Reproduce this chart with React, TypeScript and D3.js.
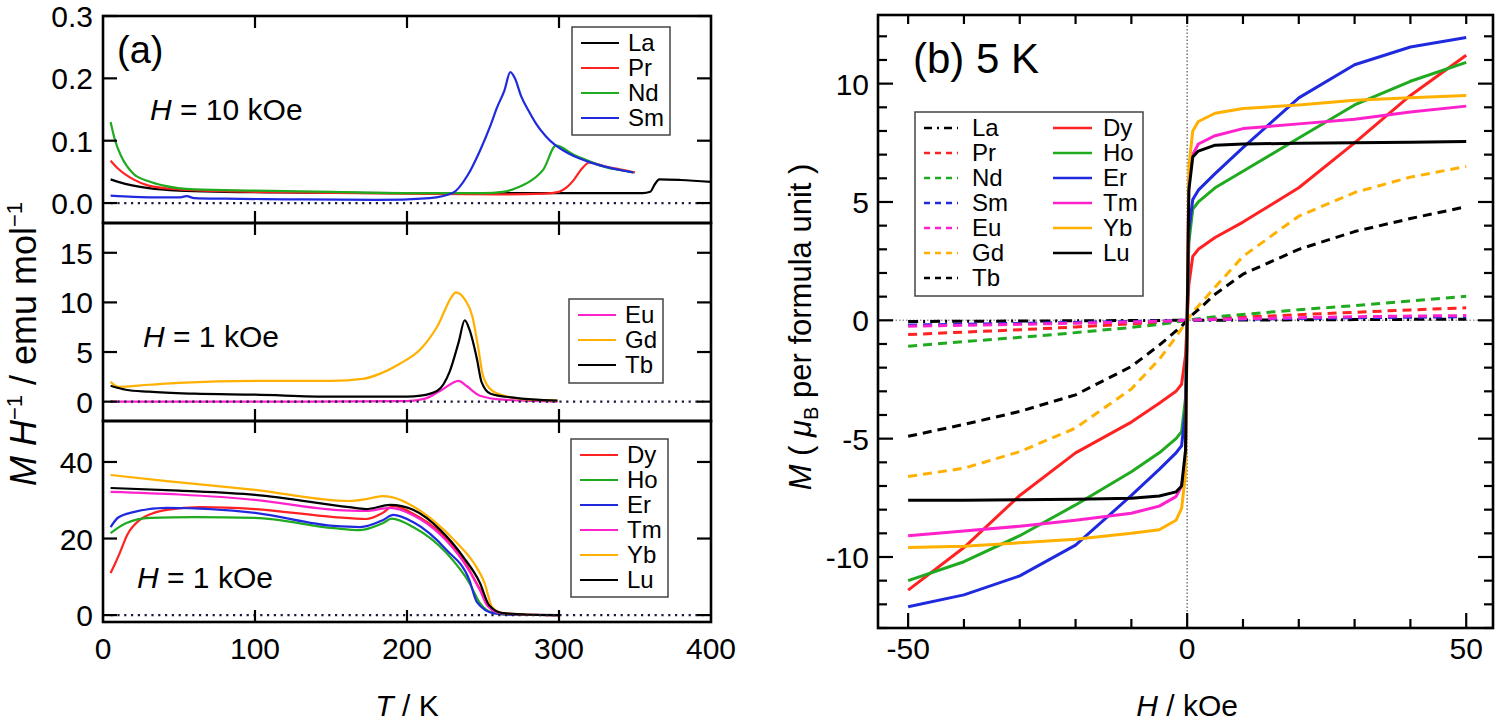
import * as d3 from "d3";

// ---- panel (a), top: H = 10 kOe
const laT = [5, 10, 20, 30, 50, 80, 120, 200, 300, 355, 360, 363, 366, 380, 400];
const laV = [0.038, 0.034, 0.028, 0.024, 0.02, 0.018, 0.017, 0.016, 0.016, 0.016, 0.018, 0.03, 0.038, 0.037, 0.034];
const prT = [5, 10, 20, 30, 50, 80, 120, 200, 260, 290, 300, 305, 310, 315, 320, 330, 340, 350];
const prV = [0.068, 0.055, 0.038, 0.028, 0.022, 0.019, 0.017, 0.015, 0.014, 0.015, 0.018, 0.025, 0.038, 0.055, 0.065, 0.059, 0.054, 0.049];
const ndT = [5, 8, 12, 20, 30, 40, 60, 100, 150, 200, 250, 263, 272, 281, 290, 298, 310, 320, 330, 340, 349];
const ndV = [0.13, 0.1, 0.075, 0.047, 0.035, 0.028, 0.022, 0.02, 0.018, 0.016, 0.016, 0.018, 0.024, 0.035, 0.055, 0.092, 0.077, 0.067, 0.058, 0.053, 0.049];
const smT = [5, 20, 40, 50, 55, 60, 80, 120, 180, 215, 230, 240, 248, 255, 259, 264, 268, 271, 275, 280, 285, 291, 298, 306, 314, 322, 331, 340, 349];
const smV = [0.012, 0.01, 0.009, 0.009, 0.011, 0.008, 0.007, 0.006, 0.005, 0.008, 0.016, 0.045, 0.084, 0.125, 0.152, 0.18, 0.21, 0.2, 0.172, 0.148, 0.127, 0.108, 0.092, 0.08, 0.071, 0.064, 0.058, 0.053, 0.049];

// ---- panel (a), middle: H = 1 kOe
const euT = [5, 100, 200, 212, 222, 234, 239, 248, 263, 299];
const euV = [0, 0, 0.05, 0.3, 1.1, 2.1, 1.6, 0.6, 0.2, 0];
const gdT = [5, 10, 30, 50, 100, 150, 171, 182, 195, 209, 220, 230, 232, 238, 243, 247, 250, 256, 266, 281, 299];
const gdV = [2.0, 1.5, 1.7, 1.9, 2.1, 2.1, 2.3, 2.8, 3.8, 5.3, 7.6, 10.7, 11.0, 10.3, 8.6, 5.3, 2.6, 1.1, 0.5, 0.2, 0.1];
const tbT = [5, 15, 30, 60, 100, 150, 200, 209, 220, 228, 234, 238, 241, 246, 249, 255, 270, 299];
const tbV = [1.6, 1.2, 1.0, 0.8, 0.7, 0.5, 0.5, 0.6, 1.1, 3.0, 6.0, 8.2, 7.3, 4.3, 2.0, 0.8, 0.4, 0.1];

// ---- panel (a), bottom: H = 1 kOe
const dyT = [5, 8, 11, 16, 24, 32, 42, 64, 100, 152, 173, 184, 191, 204, 222, 237, 248, 257, 270, 300];
const dyV = [11, 13.5, 16.2, 21, 24.8, 26.5, 27.5, 28.2, 27.7, 25.6, 25.1, 26.7, 28.5, 26.5, 21.5, 14.5, 6.8, 1.0, 0.2, 0];
const hoT = [5, 15, 31, 60, 100, 152, 169, 184, 190, 204, 226, 241, 248, 257, 270, 300];
const hoV = [21.4, 24, 25.4, 25.6, 25.4, 22.7, 22.2, 24, 25.2, 23, 16.2, 8.4, 3.1, 0.5, 0.1, 0];
const erT = [5, 10, 20, 42, 100, 152, 169, 184, 191, 204, 226, 241, 246, 257, 270, 300];
const erV = [23, 25.5, 26.9, 28, 26.7, 23.3, 23, 24.8, 26.2, 24.3, 17, 9.2, 3.4, 0.5, 0.1, 0];
const tmT = [5, 50, 100, 152, 173, 189, 204, 222, 237, 248, 253, 262, 280, 300];
const tmV = [32.2, 31.5, 30.1, 27.5, 27.2, 28.0, 26.1, 21.0, 14.0, 6.5, 2.4, 0.5, 0.1, 0];
const ybT = [5, 42, 100, 162, 173, 184, 190, 200, 217, 233, 244, 251, 256, 263, 280, 300];
const ybV = [36.6, 35.0, 32.7, 29.8, 30.3, 31.1, 30.8, 29.3, 24.8, 18.8, 13.6, 8.4, 2.1, 0.5, 0.1, 0];
const luT = [5, 50, 100, 162, 173, 189, 204, 222, 237, 248, 254, 263, 280, 300];
const luV = [33.2, 32.5, 31.4, 28.2, 27.7, 28.8, 27.5, 22.2, 15.2, 8.4, 2.6, 0.5, 0.1, 0];

// ---- panel (b): M(H) at 5 K
const fieldH = [-50, -40, -30, -20, -10, -5, -2, -1, -0.3, 0, 0.3, 1, 2, 5, 10, 20, 30, 40, 50];
const mLa = [-0.05, -0.04, -0.03, -0.02, -0.01, -0.005, 0, 0, 0, 0, 0, 0, 0, 0.005, 0.01, 0.02, 0.03, 0.04, 0.05];
const mPr = [-0.6, -0.5, -0.4, -0.28, -0.15, -0.08, -0.03, -0.02, -0.005, 0, 0.005, 0.02, 0.03, 0.07, 0.13, 0.24, 0.34, 0.44, 0.53];
const mNd = [-1.1, -0.9, -0.72, -0.52, -0.3, -0.17, -0.07, -0.04, -0.01, 0, 0.01, 0.04, 0.07, 0.15, 0.25, 0.45, 0.62, 0.82, 1.02];
const mSm = [-0.2, -0.17, -0.13, -0.09, -0.05, -0.03, -0.01, 0, 0, 0, 0, 0, 0.01, 0.03, 0.05, 0.08, 0.11, 0.13, 0.15];
const mEu = [-0.25, -0.21, -0.17, -0.12, -0.07, -0.04, -0.02, -0.01, 0, 0, 0, 0.01, 0.02, 0.04, 0.07, 0.11, 0.15, 0.18, 0.2];
const mGd = [-6.6, -6.25, -5.55, -4.55, -2.9, -1.65, -0.7, -0.35, -0.1, 0, 0.1, 0.35, 0.6, 1.4, 2.7, 4.4, 5.4, 6.05, 6.5];
const mTb = [-4.9, -4.4, -3.85, -3.15, -1.95, -1.05, -0.45, -0.25, -0.07, 0, 0.07, 0.25, 0.45, 1.1, 1.95, 3.0, 3.75, 4.3, 4.8];
const mDy = [-11.4, -9.6, -7.4, -5.6, -4.3, -3.5, -3.0, -2.7, -1.5, 0, 1.5, 2.7, 3.0, 3.5, 4.15, 5.6, 7.5, 9.5, 11.2];
const mHo = [-11.0, -10.2, -9.1, -7.8, -6.4, -5.6, -5.0, -4.7, -3.3, 0, 3.3, 4.7, 5.0, 5.6, 6.3, 7.7, 9.1, 10.1, 10.9];
const mEr = [-12.1, -11.6, -10.8, -9.5, -7.4, -6.3, -5.6, -5.3, -3.8, 0, 3.8, 5.1, 5.5, 6.2, 7.3, 9.4, 10.8, 11.55, 11.95];
const mTm = [-9.1, -8.9, -8.7, -8.45, -8.15, -7.85, -7.45, -7.0, -6.0, 0, 6.0, 7.0, 7.45, 7.8, 8.1, 8.3, 8.5, 8.8, 9.05];
const mYb = [-9.6, -9.55, -9.4, -9.25, -9.0, -8.85, -8.45, -7.95, -6.5, 0, 6.5, 8.0, 8.4, 8.75, 8.95, 9.1, 9.3, 9.4, 9.5];
const mLu = [-7.6, -7.6, -7.58, -7.56, -7.52, -7.42, -7.25, -7.0, -5.5, 0, 5.5, 6.9, 7.15, 7.4, 7.45, 7.48, 7.5, 7.52, 7.55];

const tTicks = [0, 100, 200, 300, 400];
const hTickLabels = [-50, 0, 50];
const mTickLabels = [-10, -5, 0, 5, 10];

const C = {
  black: "#000000",
  red: "#ff2222",
  green: "#1faa1f",
  blue: "#1f2adf",
  magenta: "#ff22cc",
  orange: "#ffb000",
};

const FONT = "'Liberation Sans', Arial, Helvetica, sans-serif";

type Curve = { name: string; t: number[]; v: number[]; color: string; dash?: string };

const topCurves: Curve[] = [
  { name: "La", t: laT, v: laV, color: C.black },
  { name: "Pr", t: prT, v: prV, color: C.red },
  { name: "Nd", t: ndT, v: ndV, color: C.green },
  { name: "Sm", t: smT, v: smV, color: C.blue },
];
const midCurves: Curve[] = [
  { name: "Eu", t: euT, v: euV, color: C.magenta },
  { name: "Gd", t: gdT, v: gdV, color: C.orange },
  { name: "Tb", t: tbT, v: tbV, color: C.black },
];
const botCurves: Curve[] = [
  { name: "Dy", t: dyT, v: dyV, color: C.red },
  { name: "Ho", t: hoT, v: hoV, color: C.green },
  { name: "Er", t: erT, v: erV, color: C.blue },
  { name: "Tm", t: tmT, v: tmV, color: C.magenta },
  { name: "Yb", t: ybT, v: ybV, color: C.orange },
  { name: "Lu", t: luT, v: luV, color: C.black },
];

const DASH = "9 6";
const mhDashed: Curve[] = [
  { name: "La", t: fieldH, v: mLa, color: C.black, dash: "10 5 2 5" },
  { name: "Pr", t: fieldH, v: mPr, color: C.red, dash: DASH },
  { name: "Nd", t: fieldH, v: mNd, color: C.green, dash: DASH },
  { name: "Sm", t: fieldH, v: mSm, color: C.blue, dash: DASH },
  { name: "Eu", t: fieldH, v: mEu, color: C.magenta, dash: DASH },
  { name: "Gd", t: fieldH, v: mGd, color: C.orange, dash: DASH },
  { name: "Tb", t: fieldH, v: mTb, color: C.black, dash: DASH },
];
const mhSolid: Curve[] = [
  { name: "Dy", t: fieldH, v: mDy, color: C.red },
  { name: "Ho", t: fieldH, v: mHo, color: C.green },
  { name: "Er", t: fieldH, v: mEr, color: C.blue },
  { name: "Tm", t: fieldH, v: mTm, color: C.magenta },
  { name: "Yb", t: fieldH, v: mYb, color: C.orange },
  { name: "Lu", t: fieldH, v: mLu, color: C.black },
];

// panel (a) geometry
const AL = 103, AR = 711;
const xA = d3.scaleLinear().domain([0, 400]).range([AL, AR]);
const panels = [
  { y: d3.scaleLinear().domain([-0.032, 0.3]).range([223, 16]), top: 16, bot: 223, ticks: [0, 0.1, 0.2, 0.3], fmt: d3.format(".1f"), curves: topCurves },
  { y: d3.scaleLinear().domain([-1.95, 18]).range([421, 223]), top: 223, bot: 421, ticks: [0, 5, 10, 15], fmt: d3.format("d"), curves: midCurves },
  { y: d3.scaleLinear().domain([-1.8, 50.7]).range([622, 421]), top: 421, bot: 622, ticks: [0, 20, 40], fmt: d3.format("d"), curves: botCurves },
];

// panel (b) geometry
const BL = 878, BR = 1493, BT = 15, BB = 628;
const xB = d3.scaleLinear().domain([-55.4, 54.8]).range([BL, BR]);
const yB = d3.scaleLinear().domain([-13, 12.9]).range([BB, BT]);

function Legend({ x, y, w, h, items }: { x: number; y: number; w: number; h: number; items: Curve[] }) {
  return (
    <g>
      <rect x={x} y={y} width={w} height={h} fill="#fff" stroke="#444" strokeWidth={1.5} />
      {items.map((c, i) => {
        const cy = y + 16 + i * 25;
        return (
          <g key={c.name}>
            <line x1={x + 9} x2={x + 47} y1={cy} y2={cy} stroke={c.color} strokeWidth={2} />
            <text x={x + 56} y={cy + 8} fontSize={24} fontFamily={FONT}>{c.name}</text>
          </g>
        );
      })}
    </g>
  );
}

function PanelA() {
  const items: JSX.Element[] = [];
  panels.forEach((p, pi) => {
    const gen = d3
      .line<[number, number]>()
      .x((d) => xA(d[0]))
      .y((d) => p.y(d[1]))
      .curve(d3.curveMonotoneX);
    p.curves.forEach((c) => {
      const pts = c.t.map((t, i) => [t, c.v[i]] as [number, number]);
      items.push(
        <path key={`c-${pi}-${c.name}`} d={gen(pts) || ""} fill="none" stroke={c.color} strokeWidth={2.2} strokeLinejoin="round" />
      );
    });
    // zero line
    items.push(
      <line key={`z-${pi}`} x1={xA(5)} x2={xA(395)} y1={p.y(0)} y2={p.y(0)} stroke="#1a1a40" strokeWidth={2.2} strokeDasharray="2.2 4.6" />
    );
    // y ticks + labels
    p.ticks.forEach((t) => {
      const yy = p.y(t);
      items.push(<line key={`yl-${pi}-${t}`} x1={AL} x2={AL + 14} y1={yy} y2={yy} stroke="#000" strokeWidth={2.2} />);
      items.push(<line key={`yr-${pi}-${t}`} x1={AR} x2={AR - 14} y1={yy} y2={yy} stroke="#000" strokeWidth={2.2} />);
      items.push(
        <text key={`yt-${pi}-${t}`} x={AL - 10} y={yy + 11} fontSize={30} textAnchor="end" fontFamily={FONT}>
          {p.fmt(t)}
        </text>
      );
    });
    // x ticks on top and bottom border of each panel
    [100, 200, 300].forEach((t) => {
      items.push(<line key={`xt-${pi}-${t}`} x1={xA(t)} x2={xA(t)} y1={p.top} y2={p.top + 12} stroke="#000" strokeWidth={2.2} />);
      items.push(<line key={`xb-${pi}-${t}`} x1={xA(t)} x2={xA(t)} y1={p.bot} y2={p.bot - 12} stroke="#000" strokeWidth={2.2} />);
    });
    items.push(
      <rect key={`f-${pi}`} x={AL} y={p.top} width={AR - AL} height={p.bot - p.top} fill="none" stroke="#000" strokeWidth={2.6} />
    );
  });
  return (
    <g>
      {items}
      {tTicks.map((t) => (
        <text key={`tl-${t}`} x={xA(t)} y={659} fontSize={30} textAnchor="middle" fontFamily={FONT}>
          {t}
        </text>
      ))}
      <Legend x={572} y={27} w={98} h={108} items={topCurves} />
      <Legend x={569} y={299} w={94} h={84} items={midCurves} />
      <Legend x={571} y={439} w={97} h={158} items={botCurves} />
      <text x={117} y={63} fontSize={38} fontFamily={FONT}>(a)</text>
      <text x={150} y={120} fontSize={30} fontFamily={FONT}>
        <tspan fontStyle="italic">H</tspan> = 10 kOe
      </text>
      <text x={143} y={347} fontSize={30} fontFamily={FONT}>
        <tspan fontStyle="italic">H</tspan> = 1 kOe
      </text>
      <text x={137} y={588} fontSize={30} fontFamily={FONT}>
        <tspan fontStyle="italic">H</tspan> = 1 kOe
      </text>
      <text x={407} y={716} fontSize={30} textAnchor="middle" fontFamily={FONT}>
        <tspan fontStyle="italic">T</tspan> / K
      </text>
      <text transform="translate(36,344) rotate(-90)" fontSize={36} textAnchor="middle" fontFamily={FONT}>
        <tspan fontStyle="italic">M H</tspan>
        <tspan dy={-14} fontSize={22}>−1</tspan>
        <tspan dy={14}> / emu mol</tspan>
        <tspan dy={-14} fontSize={22}>−1</tspan>
      </text>
    </g>
  );
}

function PanelB() {
  const gen = d3
    .line<[number, number]>()
    .x((d) => xB(d[0]))
    .y((d) => yB(d[1]));
  const all = [...mhDashed, ...mhSolid];
  const yTicks = d3.range(-13, 13);
  const xTicks = d3.range(-50, 51, 10);
  return (
    <g>
      <defs>
        <clipPath id="clipB">
          <rect x={BL} y={BT} width={BR - BL} height={BB - BT} />
        </clipPath>
      </defs>
      <line x1={xB(0)} x2={xB(0)} y1={BT} y2={BB} stroke="#777" strokeWidth={1.5} strokeDasharray="1.5 2" />
      <line x1={BL} x2={BR} y1={yB(0)} y2={yB(0)} stroke="#999" strokeWidth={1.5} strokeDasharray="1.5 2" />
      <g clipPath="url(#clipB)">
        {all.map((c) => (
          <path
            key={c.name}
            d={gen(c.t.map((t, i) => [t, c.v[i]] as [number, number])) || ""}
            fill="none"
            stroke={c.color}
            strokeWidth={3}
            strokeDasharray={c.dash}
            strokeLinejoin="round"
          />
        ))}
      </g>
      {yTicks.map((t) => {
        const len = t % 5 === 0 ? 15 : 9;
        return (
          <g key={`my-${t}`}>
            <line x1={BL} x2={BL + len} y1={yB(t)} y2={yB(t)} stroke="#000" strokeWidth={2.2} />
            <line x1={BR} x2={BR - len} y1={yB(t)} y2={yB(t)} stroke="#000" strokeWidth={2.2} />
          </g>
        );
      })}
      {xTicks.map((t) => {
        const len = t % 50 === 0 ? 15 : 9;
        return (
          <g key={`mx-${t}`}>
            <line x1={xB(t)} x2={xB(t)} y1={BT} y2={BT + 9} stroke="#000" strokeWidth={2.2} />
            <line x1={xB(t)} x2={xB(t)} y1={BB} y2={BB - len} stroke="#000" strokeWidth={2.2} />
          </g>
        );
      })}
      <rect x={BL} y={BT} width={BR - BL} height={BB - BT} fill="none" stroke="#000" strokeWidth={2.6} />
      {mTickLabels.map((t) => (
        <text key={`ml-${t}`} x={BL - 9} y={yB(t) + 11} fontSize={30} textAnchor="end" fontFamily={FONT}>
          {t}
        </text>
      ))}
      {hTickLabels.map((t) => (
        <text key={`hl-${t}`} x={xB(t)} y={659} fontSize={30} textAnchor="middle" fontFamily={FONT}>
          {t}
        </text>
      ))}
      <text x={xB(0)} y={716} fontSize={30} textAnchor="middle" fontFamily={FONT}>
        <tspan fontStyle="italic">H</tspan> / kOe
      </text>
      <text transform="translate(811,327) rotate(-90)" fontSize={31} textAnchor="middle" fontFamily={FONT}>
        <tspan fontStyle="italic">M</tspan> ( <tspan fontStyle="italic">μ</tspan>
        <tspan dy={7} fontSize={20}>B</tspan>
        <tspan dy={-7}> per formula unit )</tspan>
      </text>
      <text x={913} y={73} fontSize={42} fontFamily={FONT}>(b) 5 K</text>
      <rect x={915} y={112} width={228} height={184} fill="#fff" stroke="#444" strokeWidth={1.5} />
      {mhDashed.map((c, i) => {
        const cy = 128 + i * 25;
        return (
          <g key={`lg1-${c.name}`}>
            <line x1={924} x2={958} y1={cy} y2={cy} stroke={c.color} strokeWidth={2.5} strokeDasharray={c.name === "La" ? "8 5 2 5" : "6 5"} />
            <text x={972} y={cy + 8} fontSize={24} fontFamily={FONT}>{c.name}</text>
          </g>
        );
      })}
      {mhSolid.map((c, i) => {
        const cy = 128 + i * 25;
        return (
          <g key={`lg2-${c.name}`}>
            <line x1={1053} x2={1092} y1={cy} y2={cy} stroke={c.color} strokeWidth={2.5} />
            <text x={1103} y={cy + 8} fontSize={24} fontFamily={FONT}>{c.name}</text>
          </g>
        );
      })}
    </g>
  );
}

export default function App() {
  return (
    <svg
      width={1500}
      height={723}
      viewBox="0 0 1500 723"
      style={{ position: "absolute", left: 0, top: 0, background: "#fff" }}
    >
      <PanelA />
      <PanelB />
    </svg>
  );
}
